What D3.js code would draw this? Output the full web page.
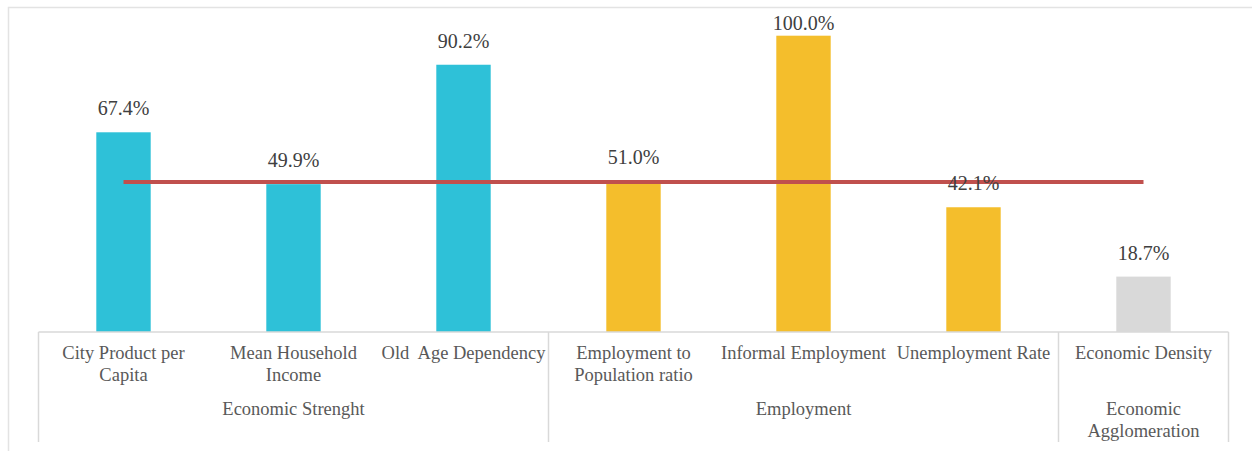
<!DOCTYPE html>
<html>
<head>
<meta charset="utf-8">
<script src="https://cdn.jsdelivr.net/npm/d3@7"></script>
<style>
  html, body { margin: 0; padding: 0; background: #fff; }
  svg { display: block; }
</style>
</head>
<body>
<svg id="chart" width="1252" height="451"></svg>
<script>
// ---- data ----
const categories = [
  "City Product per\nCapita",
  "Mean Household\nIncome",
  "Old  Age Dependency",
  "Employment to\nPopulation ratio",
  "Informal Employment",
  "Unemployment Rate",
  "Economic Density"
];
const values = [0.674, 0.499, 0.902, 0.510, 1.000, 0.421, 0.187];
const categoryGroup = [0, 0, 0, 1, 1, 1, 2];
const groups = ["Economic Strenght", "Employment", "Economic\nAgglomeration"];
const groupColors = ["#2EC1D8", "#F4BE2C", "#D9D9D9"];
const referenceValue = 0.506;

// ---- layout ----
const FONT = "'Liberation Serif', 'Times New Roman', 'DejaVu Serif', serif";
const svg = d3.select("#chart");
const W = 1252, H = 451;
const axisY = 332, plotTop = 35.7;
const x0 = 38.5, x1 = 1228.5;

const x = d3.scaleBand()
  .domain(d3.range(categories.length))
  .range([x0, x1])
  .paddingInner(0.68)
  .paddingOuter(0.34);
const y = d3.scaleLinear().domain([0, 1]).range([axisY, plotTop]);
const fmt = d3.format(".1%");

// outer frame
svg.append("rect")
  .attr("x", 8.5).attr("y", 7.5)
  .attr("width", W + 20).attr("height", H + 20)
  .attr("fill", "none").attr("stroke", "#e3e3e3").attr("stroke-width", 1.5);

// bars
svg.append("g").selectAll("rect")
  .data(values)
  .join("rect")
  .attr("x", (d, i) => x(i))
  .attr("width", x.bandwidth())
  .attr("y", d => y(d))
  .attr("height", d => y(0) - y(d))
  .attr("fill", (d, i) => groupColors[categoryGroup[i]]);

// reference line
const line = d3.line().x(d => d[0]).y(d => d[1]);
svg.append("path")
  .attr("d", line([
    [x(0) + x.bandwidth() / 2, y(referenceValue)],
    [x(categories.length - 1) + x.bandwidth() / 2, y(referenceValue)]
  ]))
  .attr("stroke", "#C0504D").attr("stroke-width", 4).attr("fill", "none");

// data labels
svg.append("g").selectAll("text")
  .data(values)
  .join("text")
  .attr("x", (d, i) => x(i) + x.bandwidth() / 2)
  .attr("y", d => Math.max(y(d) - 17, 30))
  .attr("text-anchor", "middle")
  .attr("font-family", FONT)
  .attr("font-size", 20)
  .attr("fill", "#404040")
  .text(d => fmt(d));

// axis line
const axisColor = "#d9d9d9";
svg.append("line")
  .attr("x1", x0).attr("x2", x1)
  .attr("y1", axisY).attr("y2", axisY)
  .attr("stroke", axisColor).attr("stroke-width", 1.5);

// group boundaries
const step = x.step();
const groupBounds = groups.map((g, gi) => {
  const idx = categoryGroup.map((c, i) => c === gi ? i : -1).filter(i => i >= 0);
  return {
    name: g,
    start: x0 + idx[0] * step,
    end: x0 + (idx[idx.length - 1] + 1) * step
  };
});
const boundaryXs = [x0].concat(groupBounds.map(b => b.end));
svg.append("g").selectAll("line")
  .data(boundaryXs)
  .join("line")
  .attr("x1", d => d).attr("x2", d => d)
  .attr("y1", axisY).attr("y2", 442)
  .attr("stroke", axisColor).attr("stroke-width", 1.5);

// category labels
const LABEL_SIZE = 18.5;
const catG = svg.append("g");
categories.forEach((c, i) => {
  const t = catG.append("text")
    .attr("x", x(i) + x.bandwidth() / 2)
    .attr("y", 359)
    .attr("text-anchor", "middle")
    .attr("font-family", FONT)
    .attr("font-size", LABEL_SIZE)
    .attr("fill", "#595959")
    .attr("xml:space", "preserve")
    .style("white-space", "pre");
  c.split("\n").forEach((ln, k) => {
    t.append("tspan")
      .attr("x", x(i) + x.bandwidth() / 2)
      .attr("dy", k === 0 ? 0 : 22)
      .text(ln);
  });
});

// group labels
const grpG = svg.append("g");
groupBounds.forEach(b => {
  const cx = (b.start + b.end) / 2;
  const t = grpG.append("text")
    .attr("x", cx).attr("y", 415)
    .attr("text-anchor", "middle")
    .attr("font-family", FONT)
    .attr("font-size", LABEL_SIZE)
    .attr("fill", "#595959");
  b.name.split("\n").forEach((ln, k) => {
    t.append("tspan").attr("x", cx).attr("dy", k === 0 ? 0 : 22).text(ln);
  });
});
</script>
</body>
</html>
